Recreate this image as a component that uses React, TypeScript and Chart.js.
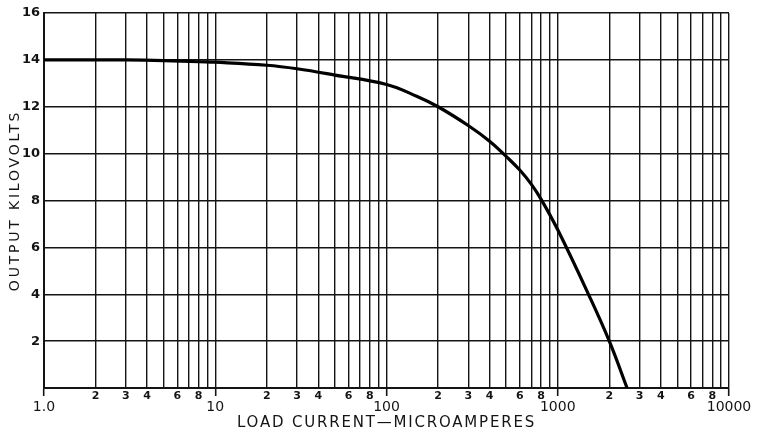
import { useEffect, useRef } from 'react';
import { Chart, registerables } from 'chart.js';

Chart.register(...registerables);

// Load current (microamperes) vs output (kilovolts)
const loadCurrent = [1, 2, 3, 5, 8, 10, 20, 30, 50, 100, 150, 200, 300, 400, 500, 600, 700, 800, 1000, 1500, 2000, 2540];
const outputKilovolts = [14.0, 14.0, 14.0, 13.97, 13.92, 13.9, 13.77, 13.62, 13.35, 12.95, 12.45, 12.0, 11.2, 10.53, 9.88, 9.3, 8.7, 8.05, 6.75, 4.05, 2.0, 0];

// X axis ticks (log paper)
const xDecades = [1, 10, 100, 1000];
const xMinorSteps = [2, 3, 4, 5, 6, 7, 8, 9];
const xMinorLabelSteps = [2, 3, 4, 6, 8];
const xMajorValues = [1, 10, 100, 1000, 10000];
const xMajorLabels = ['1.0', '10', '100', '1000', '10000'];

// Y axis ticks
const yTickValues = [0, 2, 4, 6, 8, 10, 12, 14, 16];
const yTickLabels = ['', '2', '4', '6', '8', '10', '12', '14', '16'];

export default function App() {
  const ref = useRef<HTMLCanvasElement>(null);

  useEffect(() => {
    document.body.style.margin = '0';
    if (!ref.current) return;

    const xTicks: { value: number; label: string | string[] }[] = [];
    xDecades.forEach((d, di) => {
      xTicks.push({ value: d, label: ['', xMajorLabels[di]] });
      xMinorSteps.forEach((m) => {
        xTicks.push({ value: d * m, label: xMinorLabelSteps.includes(m) ? String(m) : '' });
      });
    });
    xTicks.push({ value: xMajorValues[4], label: ['', xMajorLabels[4]] });

    const majorSet = new Set(xMajorValues);
    const ink = '#141414';

    const chart = new Chart(ref.current, {
      type: 'line',
      data: {
        datasets: [
          {
            data: loadCurrent.map((x, i) => ({ x, y: outputKilovolts[i] })),
            borderColor: '#000',
            borderWidth: 3.2,
            pointRadius: 0,
            tension: 0.4,
            fill: false,
          },
        ],
      },
      options: {
        animation: false,
        responsive: false,
        maintainAspectRatio: false,
        layout: { padding: { top: 13, right: 29, left: 0, bottom: 0 } },
        plugins: { legend: { display: false }, tooltip: { enabled: false } },
        scales: {
          x: {
            type: 'logarithmic',
            min: 1,
            max: 10000,
            afterBuildTicks: (scale: any) => {
              scale.ticks = xTicks.map((t) => ({ value: t.value }));
            },
            afterFit: (scale: any) => {
              scale.height = 43;
            },
            ticks: {
              autoSkip: false,
              maxRotation: 0,
              minRotation: 0,
              padding: -5,
              color: ink,
              callback: (_v: any, index: number) => xTicks[index].label,
              font: (ctx: any) =>
                ctx.tick && majorSet.has(ctx.tick.value)
                  ? { family: '"DejaVu Sans"', size: 14, lineHeight: '11px' }
                  : { family: '"DejaVu Sans"', size: 11, weight: 'bold', lineHeight: '11px' },
            },
            grid: {
              color: ink,
              lineWidth: 1.4,
              drawTicks: true,
              tickLength: 8,
              tickColor: (ctx: any) => (ctx.tick && majorSet.has(ctx.tick.value) ? ink : 'rgba(0,0,0,0)'),
              tickWidth: 1.6,
            },
            border: { color: ink, width: 2 },
            title: {
              display: true,
              text: 'LOAD CURRENT—MICROAMPERES',
              color: ink,
              font: { family: '"DejaVu Sans"', size: 15, lineHeight: 1 },
              padding: { top: 0, bottom: 0 },
            },
          },
          y: {
            type: 'linear',
            min: 0,
            max: 16,
            afterBuildTicks: (scale: any) => {
              scale.ticks = yTickValues.map((v) => ({ value: v }));
            },
            afterFit: (scale: any) => {
              scale.width = 44;
            },
            ticks: {
              padding: 4,
              color: ink,
              callback: (_v: any, index: number) => yTickLabels[index],
              font: { family: '"DejaVu Sans"', size: 13, weight: 'bold' },
            },
            grid: {
              color: ink,
              lineWidth: 1.4,
              drawTicks: false,
            },
            border: { color: ink, width: 2 },
            title: {
              display: true,
              text: 'OUTPUT KILOVOLTS',
              color: ink,
              font: { family: '"DejaVu Sans"', size: 14, lineHeight: 1 },
              padding: { top: 8, bottom: 0 },
            },
          },
        },
      },
    } as any);

    // Widen the lettering of the axis titles, as on the drafted original
    const spaceTitle = (scale: any, spacing: string) => {
      const orig = scale.drawTitle.bind(scale);
      scale.drawTitle = () => {
        const c: any = scale.ctx;
        const prev = c.letterSpacing;
        c.letterSpacing = spacing;
        orig();
        c.letterSpacing = prev || '0px';
      };
    };
    spaceTitle(chart.scales.x, '1.8px');
    spaceTitle(chart.scales.y, '2.8px');
    chart.draw();

    return () => chart.destroy();
  }, []);

  return (
    <div style={{ width: 758, height: 431 }}>
      <canvas ref={ref} width={758} height={431} style={{ display: 'block' }} />
    </div>
  );
}
